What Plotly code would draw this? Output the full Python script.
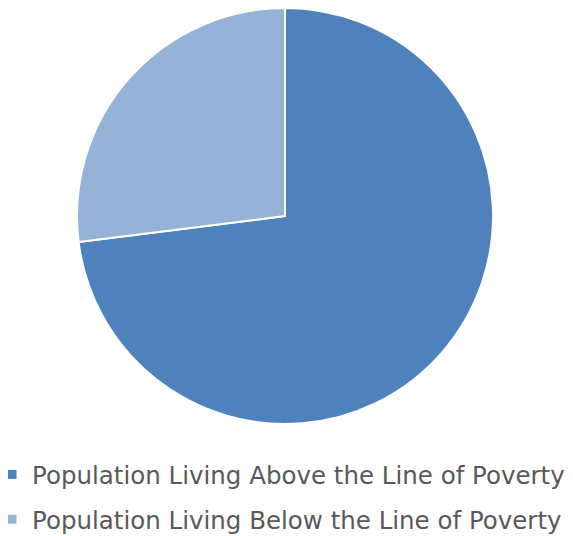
import plotly.graph_objects as go

# pie data
labels = ["Population Living Above the Line of Poverty",
          "Population Living Below the Line of Poverty"]
values = [73, 27]
colors = ["#4F81BD", "#95B3D7"]

# the page body keeps an 8px margin, so the figure is 8px smaller than the window
W, H = 565, 528

fig = go.Figure()
fig.add_trace(go.Pie(
    labels=labels,
    values=values,
    sort=False,
    direction="clockwise",
    rotation=0,
    textinfo="none",
    hoverinfo="label+percent",
    showlegend=False,
    marker=dict(colors=colors, line=dict(color="white", width=2)),
    domain=dict(x=[69 / W, 485 / W], y=[1 - 416 / H, 1.0]),
))

# legend entries (one group each so the rows can be spaced like the original)
for name, col in zip(labels, colors):
    fig.add_trace(go.Scatter(
        x=[None], y=[None], mode="markers", name=name,
        legendgroup=name,
        marker=dict(symbol="square", size=9, color=col),
    ))

fig.update_layout(
    width=W, height=H,
    margin=dict(l=0, r=0, t=0, b=0, autoexpand=False),
    paper_bgcolor="white",
    plot_bgcolor="white",
    font=dict(family="DejaVu Sans, Liberation Sans, sans-serif", color="#595959"),
    xaxis=dict(visible=False),
    yaxis=dict(visible=False),
    legend=dict(
        x=-16 / W, xanchor="left",
        y=1 - 444 / H, yanchor="top",
        font=dict(size=24.5, color="#595959"),
        itemwidth=30,
        tracegroupgap=10,
        bgcolor="rgba(0,0,0,0)",
    ),
)

fig.write_html("out.html")
